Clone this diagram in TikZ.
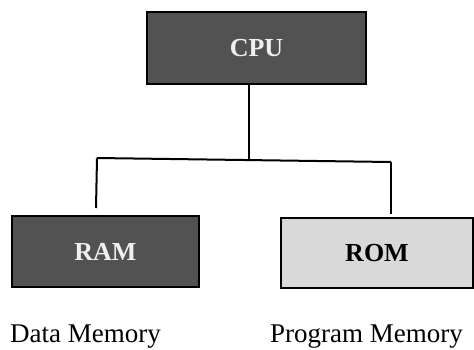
\documentclass[tikz,border=0pt]{standalone}
\usepackage{fontspec}
\setmainfont{Liberation Serif}
\begin{document}
\begin{tikzpicture}[x=1pt,y=-1pt,
  box/.style={draw=black, line width=2.5pt, inner sep=0pt, font=\fontsize{26}{30}\selectfont\bfseries},
  darkbox/.style={box, fill=boxdark, text=white!94!black},
  lightbox/.style={box, fill=boxlight, text=black},
  wire/.style={draw=black, line width=2pt},
  caption/.style={font=\fontsize{27}{31}\selectfont, anchor=base, inner sep=0pt}]
\definecolor{boxdark}{HTML}{525252}
\definecolor{boxlight}{HTML}{D9D9D9}
\useasboundingbox (0,0) rectangle (474,349);
\node[darkbox, minimum width=219pt, minimum height=72pt] (cpu) at (256.5,48) {CPU};
\node[darkbox, minimum width=187pt, minimum height=71pt] (ram) at (105.5,251.5) {RAM};
\node[lightbox, minimum width=192pt, minimum height=70pt] (rom) at (377,253) {ROM};
\coordinate (top) at (249,84);
\coordinate (j) at (249,159);
\coordinate (hl) at (97,158);
\coordinate (hr) at (391,162);
\coordinate (ll) at (96,208);
\coordinate (rl) at (391,214);
\draw[wire] (top) -- (j);
\draw[wire] (hl) -- (hr);
\draw[wire] (hl) -- (ll);
\draw[wire] (hr) -- (rl);
\node[caption] (dm) at (85.5,342.5) {Data Memory};
\node[caption] (pm) at (366.5,342.5) {Program Memory};
\end{tikzpicture}
\end{document}
